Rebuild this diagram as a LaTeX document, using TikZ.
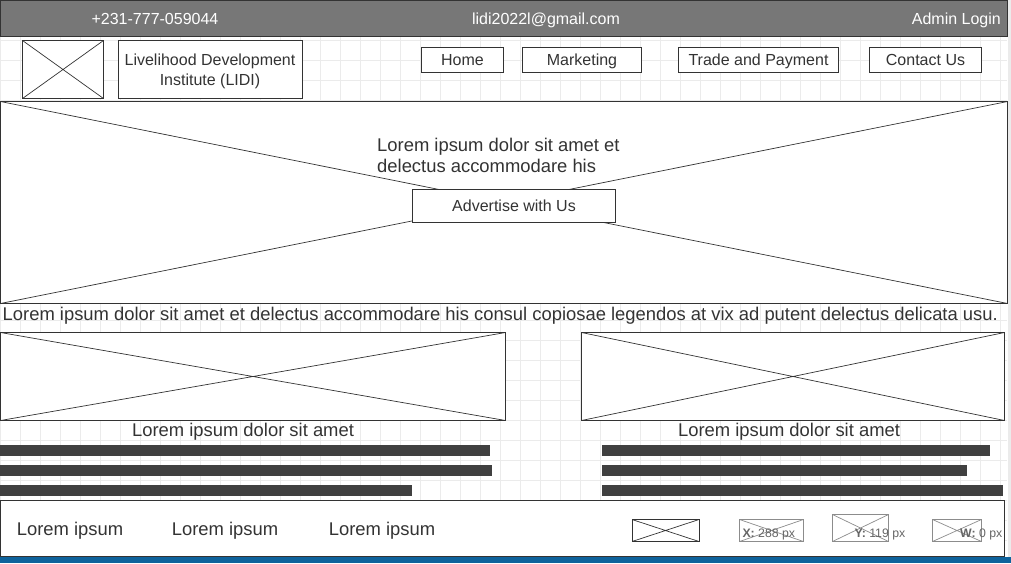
\documentclass[tikz,border=0pt]{standalone}
\usepackage{fontspec}
\setmainfont{Liberation Sans}
\definecolor{linec}{HTML}{333333}
\definecolor{textc}{HTML}{333333}
\definecolor{barc}{HTML}{404040}
\definecolor{topc}{HTML}{777777}
\definecolor{gridc}{HTML}{EBEBEB}
\definecolor{statusc}{HTML}{0E639C}
\definecolor{lightph}{HTML}{8C8C8C}
\definecolor{pxc}{HTML}{666666}
\newcommand\fsA{\fontsize{16}{19}\selectfont}
\newcommand\fsB{\fontsize{18.4}{21}\selectfont}
\newcommand\fsC{\fontsize{12.3}{14}\selectfont}
\begin{document}
\begin{tikzpicture}[x=1pt,y=-1pt,
  gridline/.style={draw=gridc, line width=0.8pt},
  box/.style={draw=linec, line width=1pt, fill=white, inner sep=0pt, outer sep=0pt, anchor=north west},
  diag/.style={draw=linec, line width=0.7pt},
  ph/.style={box, path picture={
      \draw[diag] (path picture bounding box.north west) -- (path picture bounding box.south east)
                  (path picture bounding box.south west) -- (path picture bounding box.north east);}},
  phlight/.style={box, draw=lightph, path picture={
      \draw[diag, draw=lightph] (path picture bounding box.north west) -- (path picture bounding box.south east)
                  (path picture bounding box.south west) -- (path picture bounding box.north east);}},
  navbox/.style={box, text=textc, font=\fsA, text height=11.5pt, text depth=0pt},
  txt/.style={text=textc, inner sep=0pt},
  bar/.style={fill=barc, draw=none}
]
\useasboundingbox (0,0) rectangle (1011,563);
% canvas grid
\foreach \x in {0.5,20.5,...,1000.5} \draw[gridline] (\x,36) -- (\x,557);
\foreach \y in {40.5,60.5,...,540.5} \draw[gridline] (0,\y) -- (1007,\y);
\fill[gridc] (1008,0) rectangle (1011,557);
% top bar
\node[box, fill=topc, minimum width=1007pt, minimum height=36pt] (topbar) at (0.5,0.5) {};
\node[text=white, font=\fsA, anchor=base, inner sep=0pt] (phone) at (155,24.5) {+231-777-059044};
\node[text=white, font=\fsA, anchor=base, inner sep=0pt] (email) at (546,24.5) {lidi2022l@gmail.com};
\node[text=white, font=\fsA, anchor=base east, inner sep=0pt] (admin) at (1001,24.5) {Admin Login};
% header
\node[ph, minimum width=81pt, minimum height=58pt] (logo) at (22.5,40.5) {};
\node[box, minimum width=184pt, minimum height=58pt] (titlebox) at (118.5,40.5) {};
\node[txt, font=\fsA, anchor=base] (title1) at (210,65.3) {Livelihood Development};
\node[txt, font=\fsA, anchor=base] (title2) at (210,85) {Institute (LIDI)};
\node[navbox, minimum width=82pt, minimum height=25pt] (home) at (421.5,47.5) {Home};
\node[navbox, minimum width=119pt, minimum height=25pt] (marketing) at (522.5,47.5) {Marketing};
\node[navbox, minimum width=160pt, minimum height=25pt] (trade) at (678.5,47.5) {Trade and Payment};
\node[navbox, minimum width=112pt, minimum height=25pt] (contact) at (869.5,47.5) {Contact Us};
% hero
\node[ph, minimum width=1007pt, minimum height=202pt] (hero) at (0.5,101.5) {};
\node[txt, font=\fsB, anchor=base west] (hero1) at (377,151) {Lorem ipsum dolor sit amet et};
\node[txt, font=\fsB, anchor=base west] (hero2) at (377,172) {delectus accommodare his};
\node[navbox, minimum width=203pt, minimum height=33pt] (advert) at (412.5,189.5) {Advertise with Us};
% paragraph
\node[txt, font=\fsB, anchor=base west] (para) at (2.5,320.7) {Lorem ipsum dolor sit amet et delectus accommodare his consul copiosae legendos at vix ad putent delectus delicata usu.};
% two columns
\node[ph, minimum width=505pt, minimum height=88pt] (imgL) at (0.5,332.5) {};
\node[ph, minimum width=423pt, minimum height=88pt] (imgR) at (581.5,332.5) {};
\node[txt, font=\fsB, anchor=base] (capL) at (243,436.5) {Lorem ipsum dolor sit amet};
\node[txt, font=\fsB, anchor=base] (capR) at (789,436.5) {Lorem ipsum dolor sit amet};
\fill[bar] (0,445) rectangle (490,456);
\fill[bar] (0,465) rectangle (492,476);
\fill[bar] (0,485) rectangle (412,496);
\fill[bar] (602,445) rectangle (990,456);
\fill[bar] (602,465) rectangle (967,476);
\fill[bar] (602,485) rectangle (1003,496);
% footer
\node[box, minimum width=1004pt, minimum height=56pt] (footer) at (0.5,500.5) {};
\node[txt, font=\fsB, anchor=base] (foot1) at (70,535.3) {Lorem ipsum};
\node[txt, font=\fsB, anchor=base] (foot2) at (225,535.3) {Lorem ipsum};
\node[txt, font=\fsB, anchor=base] (foot3) at (382,535.3) {Lorem ipsum};
\node[ph, minimum width=67pt, minimum height=22pt] (fph1) at (632,519.5) {};
\node[phlight, minimum width=64pt, minimum height=22pt] (fph2) at (739.5,519.5) {};
\node[phlight, minimum width=56pt, minimum height=27pt] (fph3) at (832.5,514.5) {};
\node[phlight, minimum width=49pt, minimum height=22pt] (fph4) at (932.5,519.5) {};
\node[text=pxc, font=\fsC, anchor=base west, inner sep=0pt] (xpx) at (742.3,537.3) {\textbf{X:} 288 px};
\node[text=pxc, font=\fsC, anchor=base west, inner sep=0pt] (ypx) at (854.3,537.3) {\textbf{Y:} 119 px};
\node[text=pxc, font=\fsC, anchor=base west, inner sep=0pt] (wpx) at (960,537.3) {\textbf{W:} 0 px};
% status strip
\fill[statusc] (0,557) rectangle (1011,563);
\end{tikzpicture}
\end{document}
